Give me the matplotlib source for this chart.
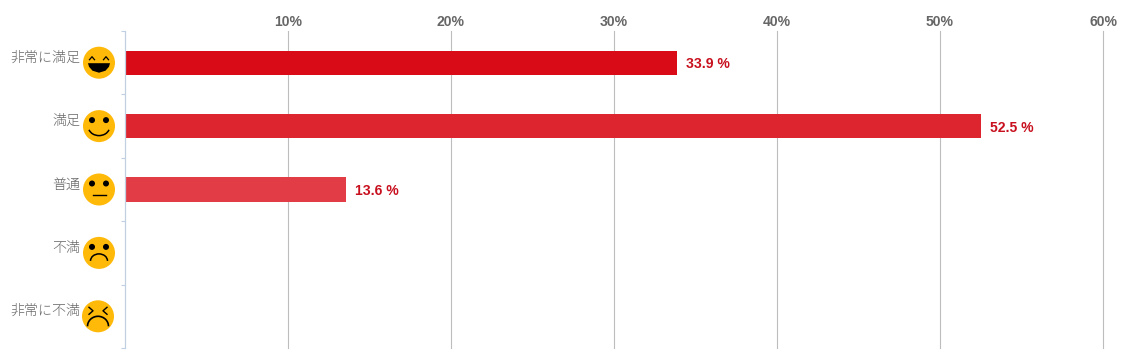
import matplotlib
matplotlib.use("Agg")
import matplotlib.pyplot as plt
from matplotlib.patches import Circle, Arc, Polygon

categories = ["非常に満足", "満足", "普通", "不満", "非常に不満"]
values = [33.9, 52.5, 13.6, 0, 0]
bar_colors = ["#D90B16", "#DD2530", "#E23D47", "#E5525B", "#E96770"]
x_ticks = [10, 20, 30, 40, 50, 60]
faces = ["laugh", "smile", "neutral", "sad", "angry"]

W, H = 1123, 363
fig = plt.figure(figsize=(W / 100, H / 100), dpi=100)
ax = fig.add_axes([124.7 / W, 1 - 348 / H, (1103 - 124.7) / W, 317 / H])

y = list(range(len(categories)))
ax.barh(y, values, height=0.38, color=bar_colors)
ax.set_xlim(0, 60)
ax.set_ylim(4.5, -0.5)

ax.xaxis.tick_top()
ax.set_xticks(x_ticks)
ax.set_xticklabels([f"{t}%" for t in x_ticks], family="Liberation Sans", fontweight="bold",
                   fontsize=10.1, color="#666666")
ax.tick_params(axis="x", length=0, pad=1.5)
ax.set_yticks([i - 0.5 for i in range(len(categories) + 1)])
ax.set_yticklabels([])
ax.tick_params(axis="y", length=3, width=0.8, color="#C0D0E0")
ax.grid(axis="x", color="#BDBDBD", linewidth=0.8, clip_on=False)
ax.set_axisbelow(True)
for s in ["top", "right", "bottom"]:
    ax.spines[s].set_visible(False)
ax.spines["left"].set_color("#C0D0E0")
ax.spines["left"].set_linewidth(0.9)

for i, v in enumerate(values):
    if v > 0:
        ax.annotate(f"{v} %", (v, i), xytext=(6.5, 0), textcoords="offset points",
                    va="center_baseline", ha="left", family="Liberation Sans", fontweight="bold",
                    fontsize=10.1, color="#C8101E")

# pixel overlay for the category labels and the smiley icons
ov = fig.add_axes([0, 0, 1, 1])
ov.set_xlim(0, W)
ov.set_ylim(H, 0)
ov.axis("off")
ov.patch.set_alpha(0)


def draw_face(cx, cy, kind):
    ov.add_patch(Circle((cx, cy), 16, color="#FFB908", lw=0))
    if kind == "laugh":
        for dx in (-7, 7):
            ov.plot([cx + dx - 2.5, cx + dx, cx + dx + 2.5], [cy - 3, cy - 6, cy - 3],
                    color="black", lw=0.9)
        mouth = [(cx - 11, cy + 0.5), (cx + 11, cy + 0.5), (cx + 10, cy + 4),
                 (cx + 6.5, cy + 8), (cx, cy + 10), (cx - 6.5, cy + 8), (cx - 10, cy + 4)]
        ov.add_patch(Polygon(mouth, color="black", lw=0))
        return
    if kind == "angry":
        ov.plot([cx - 9, cx - 5, cx - 9], [cy - 9, cy - 5.5, cy - 2], color="black", lw=1.0)
        ov.plot([cx + 9, cx + 5, cx + 9], [cy - 9, cy - 5.5, cy - 2], color="black", lw=1.0)
        ov.add_patch(Arc((cx, cy + 10), 21, 20, theta1=180, theta2=360, color="black", lw=1.2))
        return
    for dx in (-7, 7):
        ov.add_patch(Circle((cx + dx, cy - 6), 3, color="black", lw=0))
    if kind == "smile":
        ov.add_patch(Arc((cx, cy + 1), 21, 17, theta1=15, theta2=165, color="black", lw=1.1))
    elif kind == "neutral":
        ov.plot([cx - 6.5, cx + 6.5], [cy + 5, cy + 5], color="black", lw=1.0)
    elif kind == "sad":
        ov.add_patch(Arc((cx, cy + 8), 17, 14, theta1=180, theta2=360, color="black", lw=1.1))


for i, name in enumerate(categories):
    cy = H - ax.transData.transform((0, i))[1]
    ov.text(80, cy - 5, name, ha="right", va="center", fontsize=10.1,
            family=["Noto Sans CJK JP", "DejaVu Sans"], color="#666666", fontweight="light")
    draw_face(98 if i == 4 else 99, cy, faces[i])

fig.savefig("out.png", dpi=100)
